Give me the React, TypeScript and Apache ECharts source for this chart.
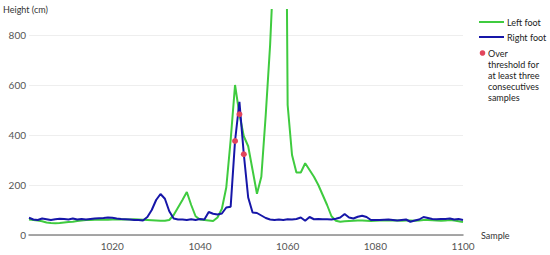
import React, { useEffect, useRef } from "react";
import * as echarts from "echarts";

const startSample = 1001;

const leftFoot = [
  62, 60, 58, 55, 50, 48, 47, 48, 50, 52,
  53, 56, 58, 60, 60, 61, 61, 62, 61, 62,
  62, 63, 62, 62, 63, 62, 61, 60, 59, 58,
  57, 57, 60, 80, 110, 140, 172, 120, 75, 62,
  60, 58, 56, 70, 105, 190, 380, 600, 483, 395,
  355, 260, 165, 233, 480, 760, 1150, 2000, 3000, 520,
  320, 250, 250, 287, 260, 233, 200, 160, 120, 75,
  57, 53, 55, 56, 57, 58, 58, 57, 56, 57,
  58, 58, 58, 59, 58, 57, 58, 58, 57, 58,
  60, 60, 59, 58, 57, 58, 60, 58, 55, 52,
];

const rightFoot = [
  69, 62, 60, 66, 63, 60, 63, 65, 64, 62,
  66, 62, 64, 62, 64, 66, 67, 68, 70, 69,
  66, 64, 63, 62, 60, 60, 58, 72, 100, 140,
  164, 145, 95, 66, 62, 62, 60, 63, 60, 64,
  62, 92, 85, 82, 86, 110, 113, 376, 533, 323,
  150, 90, 88, 78, 68, 62, 60, 62, 60, 63,
  62, 64, 70, 57, 72, 63, 64, 63, 63, 62,
  65, 70, 84, 70, 66, 73, 77, 72, 60, 60,
  60, 61, 62, 60, 58, 60, 62, 53, 58, 62,
  72, 68, 64, 63, 64, 64, 66, 62, 64, 60,
];

const thresholdSamples = [1048, 1049, 1050];
const thresholdValues = [376, 483, 323];

const xTickLabels = [1020, 1040, 1060, 1080, 1100];
const yTickLabels = [0, 200, 400, 600, 800];

const seriesNames = ["Left foot", "Right foot", "Over\nthreshold for\nat least three\nconsecutives\nsamples"];
const colors = ["#3fcb3f", "#1616a8", "#e2455c"];

export default function App() {
  const ref = useRef<HTMLDivElement>(null);

  useEffect(() => {
    if (!ref.current) return;
    const chart = echarts.init(ref.current, null, { renderer: "svg" });
    const left = leftFoot.map((v, i) => [startSample + i, v]);
    const right = rightFoot.map((v, i) => [startSample + i, v]);
    const over = thresholdSamples.map((s, i) => [s, thresholdValues[i]]);
    const font = "Lato, 'Liberation Sans', sans-serif";

    chart.setOption({
      animation: false,
      grid: { left: 29, right: 87, top: 10, bottom: 20, containLabel: false },
      xAxis: {
        type: "value",
        min: 1001,
        max: 1100,
        name: "Sample",
        nameLocation: "end",
        nameGap: 18,
        nameTextStyle: { fontSize: 9, color: "#333", fontFamily: font, verticalAlign: "middle" },
        axisLine: { show: true, lineStyle: { color: "#8a8a8a", width: 1.5 } },
        axisTick: { show: false },
        splitLine: { show: false },
        axisLabel: {
          customValues: xTickLabels,
          formatter: (v: number) => String(v),
          color: "#555",
          fontSize: 10,
          fontFamily: font,
          margin: 6,
        },
      },
      yAxis: {
        type: "value",
        min: 0,
        max: 900,
        interval: 200,
        axisLine: { show: false },
        axisTick: { show: false },
        axisLabel: {
          customValues: yTickLabels,
          formatter: (v: number) => String(v),
          color: "#555",
          fontSize: 10,
          fontFamily: font,
          margin: 3,
        },
        splitLine: {
          show: true,
          lineStyle: {
            color: ["#eeeeee", "#eeeeee", "#eeeeee", "#eeeeee", "#eeeeee", "rgba(0,0,0,0)"],
            width: 1,
          },
        },
      },
      graphic: [
        {
          type: "text",
          left: 3,
          top: 5,
          style: { text: "Height (cm)", fontSize: 9, fill: "#333", fontFamily: font },
        },
        {
          type: "line",
          shape: { x1: 479, y1: 22, x2: 504, y2: 22 },
          style: { stroke: colors[0], lineWidth: 2 },
        },
        {
          type: "text",
          x: 507,
          y: 22,
          style: { text: seriesNames[0], fontSize: 9, fill: "#222", fontFamily: font, verticalAlign: "middle" },
        },
        {
          type: "line",
          shape: { x1: 479, y1: 37, x2: 504, y2: 37 },
          style: { stroke: colors[1], lineWidth: 2 },
        },
        {
          type: "text",
          x: 507,
          y: 37,
          style: { text: seriesNames[1], fontSize: 9, fill: "#222", fontFamily: font, verticalAlign: "middle" },
        },
        {
          type: "circle",
          shape: { cx: 482.5, cy: 53, r: 2.8 },
          style: { fill: colors[2] },
        },
        {
          type: "text",
          x: 488,
          y: 47.5,
          style: {
            text: seriesNames[2],
            fontSize: 9,
            lineHeight: 11,
            fill: "#222",
            fontFamily: font,
            verticalAlign: "top",
          },
        },
      ],
      series: [
        {
          name: "Left foot",
          type: "line",
          data: left,
          showSymbol: false,
          lineStyle: { color: colors[0], width: 2 },
          itemStyle: { color: colors[0] },
          clip: true,
          z: 2,
        },
        {
          name: "Right foot",
          type: "line",
          data: right,
          showSymbol: false,
          lineStyle: { color: colors[1], width: 2 },
          itemStyle: { color: colors[1] },
          clip: true,
          z: 3,
        },
        {
          name: "Over threshold",
          type: "scatter",
          data: over,
          symbolSize: 6,
          itemStyle: { color: colors[2], opacity: 1 },
          z: 10,
        },
      ],
    });

    return () => chart.dispose();
  }, []);

  return <div ref={ref} style={{ width: 550, height: 255, position: "absolute", left: 0, top: 0 }} />;
}
